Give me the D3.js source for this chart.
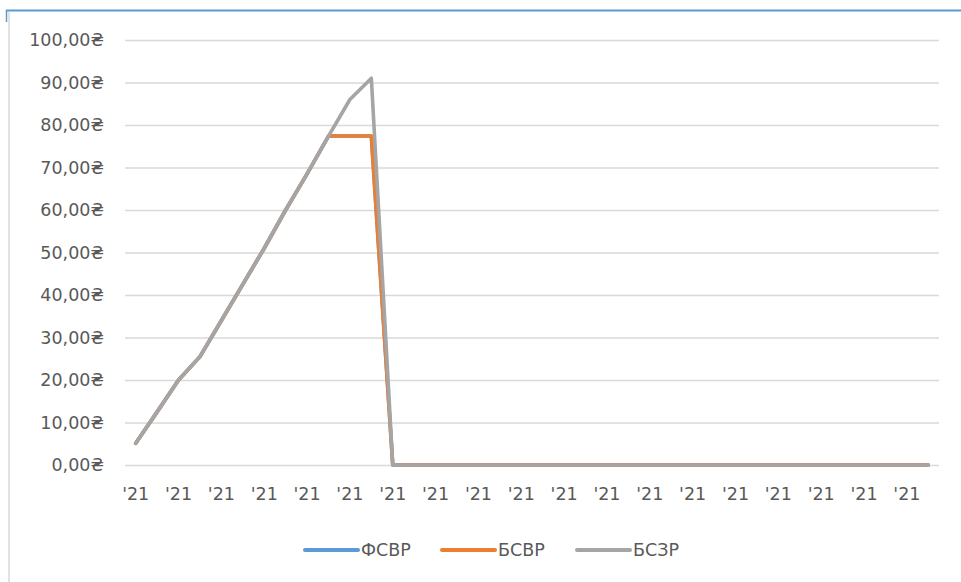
<!DOCTYPE html>
<html>
<head>
<meta charset="utf-8">
<script src="https://cdn.jsdelivr.net/npm/d3@7/dist/d3.min.js"></script>
<style>
  html, body { margin: 0; padding: 0; background: #fff; }
  svg { display: block; }
  text { font-family: "DejaVu Sans", sans-serif; fill: #595959; }
</style>
</head>
<body>
<svg id="chart" width="961" height="582"></svg>
<script>
// ---- data ----
const categories = ["'21","'21","'21","'21","'21","'21","'21","'21","'21","'21",
                    "'21","'21","'21","'21","'21","'21","'21","'21","'21","'21",
                    "'21","'21","'21","'21","'21","'21","'21","'21","'21","'21",
                    "'21","'21","'21","'21","'21","'21","'21","'21"];
const seriesNames = ["ФСВР", "БСВР", "БСЗР"];
const fsvr = [5.1, 12.5, 20, 25.5, 34, 42.5, 51, 60, 68.5, 77.4, 77.4, 77.4, 0,
              0, 0, 0, 0, 0, 0, 0, 0, 0, 0, 0, 0, 0, 0, 0, 0, 0, 0, 0, 0, 0, 0, 0, 0, 0];
const bsvr = [5.1, 12.5, 20, 25.5, 34, 42.5, 51, 60, 68.5, 77.4, 77.4, 77.4, 0,
              0, 0, 0, 0, 0, 0, 0, 0, 0, 0, 0, 0, 0, 0, 0, 0, 0, 0, 0, 0, 0, 0, 0, 0, 0];
const bszr = [5.1, 12.5, 20, 25.5, 34, 42.5, 51, 60, 68.5, 77.4, 86, 91, 0,
              0, 0, 0, 0, 0, 0, 0, 0, 0, 0, 0, 0, 0, 0, 0, 0, 0, 0, 0, 0, 0, 0, 0, 0, 0];
const yTicks = [0, 10, 20, 30, 40, 50, 60, 70, 80, 90, 100];
const colors = ["#5B9BD5", "#ED7D31", "#A5A5A5"];

// ---- layout ----
const svg = d3.select("#chart");
const mLeft = 125, mRight = 939, mTop = 40, mBottom = 465;

// frame
svg.append("line").attr("x1", 9).attr("x2", 9).attr("y1", 12).attr("y2", 582)
  .attr("stroke", "#d9d9d9").attr("stroke-width", 1.5);
svg.append("line").attr("x1", 6).attr("x2", 961).attr("y1", 10.5).attr("y2", 10.5)
  .attr("stroke", "#5B9BD5").attr("stroke-width", 2);
svg.append("line").attr("x1", 6.5).attr("x2", 6.5).attr("y1", 10).attr("y2", 22)
  .attr("stroke", "#5B9BD5").attr("stroke-width", 1.5);

const x = d3.scaleBand().domain(d3.range(categories.length)).range([mLeft, mRight]).padding(0);
const y = d3.scaleLinear().domain([0, 100]).range([mBottom, mTop]);

// gridlines + y labels
const yAxis = d3.axisLeft(y).tickValues(yTicks).tickSize(-(mRight - mLeft)).tickPadding(21)
  .tickFormat(d => d3.format(".2f")(d).replace(".", ",") + "₴");
const gy = svg.append("g").attr("transform", `translate(${mLeft},0)`).call(yAxis);
gy.select(".domain").remove();
gy.selectAll(".tick line").attr("stroke", "#d9d9d9").attr("stroke-width", 1.3);
gy.selectAll(".tick text").attr("font-size", 17.5).attr("fill", "#595959")
  .style("font-family", "DejaVu Sans");

// x labels
const xAxis = d3.axisBottom(x).tickValues(d3.range(0, categories.length, 2))
  .tickSize(0).tickPadding(23).tickFormat(i => categories[i]);
const gx = svg.append("g").attr("transform", `translate(0,${mBottom})`).call(xAxis);
gx.select(".domain").remove();
gx.selectAll(".tick text").attr("font-size", 17.5).attr("fill", "#595959")
  .style("font-family", "DejaVu Sans");

// lines
const line = d3.line().x((d, i) => x(i) + x.bandwidth() / 2).y(d => y(d));
[fsvr, bsvr, bszr].forEach((s, k) => {
  svg.append("path").datum(s).attr("d", line)
    .attr("fill", "none").attr("stroke", colors[k]).attr("stroke-width", 3.6)
    .attr("stroke-linejoin", "round").attr("stroke-linecap", "round");
});

// legend
const legendX = [303, 440, 575];
seriesNames.forEach((n, k) => {
  const g = svg.append("g").attr("transform", `translate(${legendX[k]},550)`);
  g.append("line").attr("x1", 2).attr("x2", 55).attr("y1", 0).attr("y2", 0)
    .attr("stroke", colors[k]).attr("stroke-width", 4).attr("stroke-linecap", "round");
  g.append("text").attr("x", 58).attr("y", 0).attr("dy", "0.35em")
    .attr("font-size", 17.5).text(n);
});
</script>
</body>
</html>
